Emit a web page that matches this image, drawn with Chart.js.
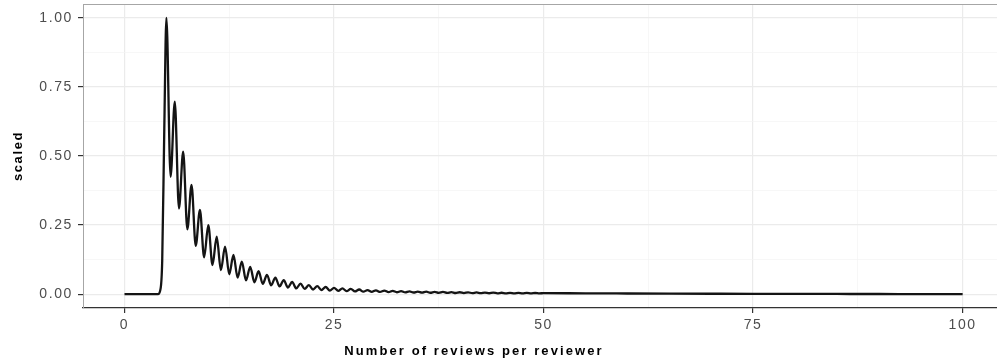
<!DOCTYPE html>
<html>
<head>
<meta charset="utf-8">
<script src="https://cdn.jsdelivr.net/npm/chart.js@4"></script>
<style>
  html, body { margin: 0; padding: 0; background: #ffffff; }
  canvas { display: block; }
</style>
</head>
<body>
<canvas id="density" width="997" height="364"></canvas>
<script>
// Scaled density of the number of reviews each reviewer wrote.
const reviewsPerReviewer = [
  0, 4, 4.25, 4.5, 4.75,
  5, 5.5, 6, 6.5, 7, 7.5, 8, 8.5, 9, 9.5,
  10, 10.5, 11, 11.5, 12, 12.5, 13, 13.5, 14, 14.5,
  15, 15.5, 16, 16.5, 17, 17.5, 18, 18.5, 19, 19.5,
  20, 20.5, 21, 21.5, 22, 22.5, 23, 23.5, 24, 24.5,
  25, 25.5, 26, 26.5, 27, 27.5, 28, 28.5, 29, 29.5,
  30, 30.5, 31, 31.5, 32, 32.5, 33, 33.5, 34, 34.5,
  35, 35.5, 36, 36.5, 37, 37.5, 38, 38.5, 39, 39.5,
  40, 40.5, 41, 41.5, 42, 42.5, 43, 43.5, 44, 44.5,
  45, 45.5, 46, 46.5, 47, 47.5, 48, 48.5, 49, 49.5,
  50, 55, 60, 65, 70, 75, 80, 85, 90, 95, 100
];
const scaledDensity = [
  0, 0, 0.012, 0.12, 0.6,
  1.000, 0.425, 0.697, 0.310, 0.516, 0.235, 0.395, 0.175, 0.305, 0.133,
  0.250, 0.105, 0.208, 0.087, 0.172, 0.072, 0.142, 0.060, 0.118, 0.050,
  0.099, 0.043, 0.083, 0.037, 0.070, 0.032, 0.060, 0.028, 0.051, 0.024,
  0.044, 0.021, 0.038, 0.019, 0.033, 0.017, 0.029, 0.015, 0.026, 0.013,
  0.023, 0.012, 0.021, 0.011, 0.019, 0.010, 0.017, 0.009, 0.015, 0.0085,
  0.014, 0.008, 0.013, 0.0075, 0.012, 0.007, 0.011, 0.0065, 0.010, 0.006,
  0.0095, 0.0056, 0.009, 0.0052, 0.0085, 0.0048, 0.008, 0.0045, 0.0075, 0.0042,
  0.007, 0.004, 0.0066, 0.0038, 0.0062, 0.0036, 0.0058, 0.0034, 0.0055, 0.0032,
  0.0052, 0.0031, 0.005, 0.003, 0.0047, 0.0029, 0.0045, 0.0028, 0.0043, 0.0028,
  0.0040, 0.0030, 0.0025, 0.0020, 0.0016, 0.0013, 0.0010, 0.0008, 0.0006, 0.0005, 0.0004
];

// Axis breaks: major breaks carry a label, minor breaks only a grid line.
const xBreaks = [0, 12.5, 25, 37.5, 50, 62.5, 75, 87.5, 100];
const xLabels = ['0', '', '25', '', '50', '', '75', '', '100'];
const yBreaks = [0, 0.125, 0.25, 0.375, 0.5, 0.625, 0.75, 0.875, 1];
const yLabels = ['0.00', '', '0.25', '', '0.50', '', '0.75', '', '1.00'];
const xTitle = 'Number of reviews per reviewer';
const yTitle = 'scaled';

const points = reviewsPerReviewer.map((x, i) => ({ x: x, y: scaledDensity[i] }));

const labelOf = (breaks, labels, v) => {
  const i = breaks.findIndex(b => Math.abs(b - v) < 1e-9);
  return i < 0 ? '' : labels[i];
};
const isMajor = (breaks, labels, v) => labelOf(breaks, labels, v) !== '';

const tickFont = { family: 'Liberation Sans', size: 14 };
const titleFont = { family: 'Liberation Sans', size: 13, weight: 'bold' };

// Text spacing, the top edge of the panel and the x axis title.
const panelPlugin = {
  id: 'panel',
  beforeLayout(chart) { chart.ctx.letterSpacing = '1.6px'; },
  beforeDraw(chart) { chart.ctx.letterSpacing = '1.6px'; },
  afterDraw(chart) {
    const { ctx, chartArea } = chart;
    ctx.save();
    ctx.strokeStyle = '#a6a6a6';
    ctx.lineWidth = 1;
    ctx.beginPath();
    ctx.moveTo(chartArea.left, Math.round(chartArea.top) + 0.5);
    ctx.lineTo(chartArea.right, Math.round(chartArea.top) + 0.5);
    ctx.stroke();

    ctx.letterSpacing = '2.1px';
    ctx.fillStyle = '#000000';
    ctx.font = 'bold 13px "Liberation Sans"';
    ctx.textAlign = 'center';
    ctx.textBaseline = 'middle';
    ctx.fillText(xTitle, 474, 351);
    ctx.restore();
  }
};

new Chart(document.getElementById('density'), {
  type: 'line',
  data: {
    datasets: [{
      data: points,
      borderColor: '#141414',
      borderWidth: 2.3,
      pointRadius: 0,
      fill: false,
      cubicInterpolationMode: 'monotone'
    }]
  },
  options: {
    responsive: false,
    animation: false,
    devicePixelRatio: 1,
    layout: { padding: { left: 0, right: 0, top: 4, bottom: 0 } },
    plugins: { legend: { display: false }, tooltip: { enabled: false } },
    scales: {
      x: {
        type: 'linear',
        min: -4.95,
        max: 104.1,
        afterBuildTicks: s => { s.ticks = xBreaks.map(v => ({ value: v })); },
        afterFit: s => { s.height = 56; s.paddingLeft = 0; s.paddingRight = 0; },
        ticks: {
          autoSkip: false, maxRotation: 0, padding: 4,
          color: '#4d4d4d', font: tickFont,
          callback: v => labelOf(xBreaks, xLabels, v)
        },
        grid: {
          color: c => isMajor(xBreaks, xLabels, c.tick.value) ? '#ebebeb' : '#f4f4f4',
          lineWidth: c => isMajor(xBreaks, xLabels, c.tick.value) ? 1.2 : 0.7,
          tickLength: 5,
          tickColor: c => isMajor(xBreaks, xLabels, c.tick.value) ? '#333333' : 'rgba(0,0,0,0)',
          tickWidth: 1.2
        },
        border: { display: true, color: '#333333', width: 1.3 },
        title: { display: false }
      },
      y: {
        type: 'linear',
        min: -0.05,
        max: 1.05,
        afterBuildTicks: s => { s.ticks = yBreaks.map(v => ({ value: v })); },
        afterFit: s => { s.width = 83; s.paddingTop = 0; s.paddingBottom = 0; },
        ticks: {
          autoSkip: false, padding: 5,
          color: '#4d4d4d', font: tickFont,
          callback: v => labelOf(yBreaks, yLabels, v)
        },
        grid: {
          color: c => isMajor(yBreaks, yLabels, c.tick.value) ? '#ebebeb' : '#f4f4f4',
          lineWidth: c => isMajor(yBreaks, yLabels, c.tick.value) ? 1.2 : 0.7,
          tickLength: 5,
          tickColor: c => isMajor(yBreaks, yLabels, c.tick.value) ? '#333333' : 'rgba(0,0,0,0)',
          tickWidth: 1.2
        },
        border: { display: true, color: '#a6a6a6', width: 1 },
        title: {
          display: true, text: yTitle,
          color: '#000000', font: titleFont, padding: { top: 11, bottom: 0 }
        }
      }
    }
  },
  plugins: [panelPlugin]
});
</script>
</body>
</html>
